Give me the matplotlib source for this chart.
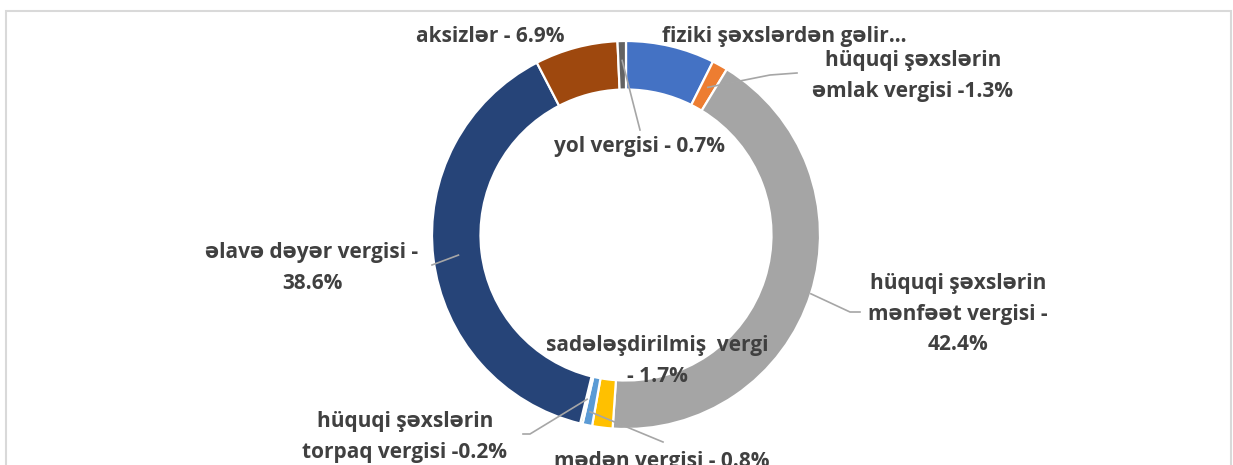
import numpy as np
import matplotlib
matplotlib.use('Agg')
import matplotlib.pyplot as plt
from matplotlib.patches import Rectangle

plt.rcParams['font.family'] = ['Open Sans', 'DejaVu Sans']

# slices, clockwise from 12 o'clock
names = ['fiziki şəxslərdən gəlir', 'hüquqi şəxslərin əmlak vergisi',
         'hüquqi şəxslərin mənfəət vergisi', 'sadələşdirilmiş vergi',
         'mədən vergisi', 'hüquqi şəxslərin torpaq vergisi',
         'əlavə dəyər vergisi', 'aksizlər', 'yol vergisi']
shares = [7.4, 1.3, 42.4, 1.7, 0.8, 0.2, 38.6, 6.9, 0.7]
colors = ['#4472C4', '#ED7D31', '#A5A5A5', '#FFC000', '#5B9BD5',
          '#70AD47', '#264478', '#9E480E', '#636363']
labels = ['fiziki şəxslərdən gəlir…',
          'hüquqi şəxslərin\nəmlak vergisi -1.3%',
          'hüquqi şəxslərin\nmənfəət vergisi -\n42.4%',
          'sadələşdirilmiş  vergi\n- 1.7%',
          'mədən vergisi - 0.8%',
          'hüquqi şəxslərin\ntorpaq vergisi -0.2%',
          'əlavə dəyər vergisi -\n38.6%',
          'aksizlər - 6.9%',
          'yol vergisi - 0.7%']

W, H = 1233, 465
CX, CY, R = 626, 235, 194

fig = plt.figure(figsize=(W / 100, H / 100), dpi=100)
ax = fig.add_axes([(CX - R) / W, (H - CY - R) / H, 2 * R / W, 2 * R / H])

wedges, _ = ax.pie(shares, colors=colors, startangle=90, counterclock=False,
                   radius=1.0,
                   wedgeprops=dict(width=0.25, edgecolor='white', linewidth=1.6))
ax.set_xlim(-1, 1)
ax.set_ylim(-1, 1)
ax.axis('off')


def px(x, y):
    return (x - CX) / R, (CY - y) / R


# label centre positions in pixels (layout)
label_pos = {0: (784, 36), 1: (913, 76), 2: (958, 314), 3: (657, 361),
             4: (662, 462), 5: (405, 437), 6: (312, 268), 7: (490, 36),
             8: (640, 146)}
for i, (x, y) in label_pos.items():
    ax.text(*px(x, y), labels[i], ha='center', va='center', fontsize=15,
            fontweight='bold', color='#404040', linespacing=1.6,
            clip_on=False)

# leader lines: wedge anchor radius + path to label (pixels)
leaders = {1: (0.87, [(770, 75), (797, 73)]),
           8: (0.9, [(640, 130)]),
           6: (0.87, [(432, 265)]),
           2: (1.0, [(850, 312), (860, 312)]),
           5: (0.87, [(530, 434), (523, 434)]),
           4: (0.93, [(663, 442)])}
for i, (r, path) in leaders.items():
    w = wedges[i]
    t = np.deg2rad((w.theta1 + w.theta2) / 2)
    xs = [r * np.cos(t)] + [px(*p)[0] for p in path]
    ys = [r * np.sin(t)] + [px(*p)[1] for p in path]
    ax.plot(xs, ys, color='#A6A6A6', lw=1.2, clip_on=False, zorder=5)

fig.add_artist(Rectangle((6 / W, -0.1), (W - 8) / W, (H - 11) / H + 0.1,
                         transform=fig.transFigure, fill=False,
                         edgecolor='#D9D9D9', linewidth=1.5))

fig.savefig('out.png', dpi=100, facecolor='white')
plt.close()
